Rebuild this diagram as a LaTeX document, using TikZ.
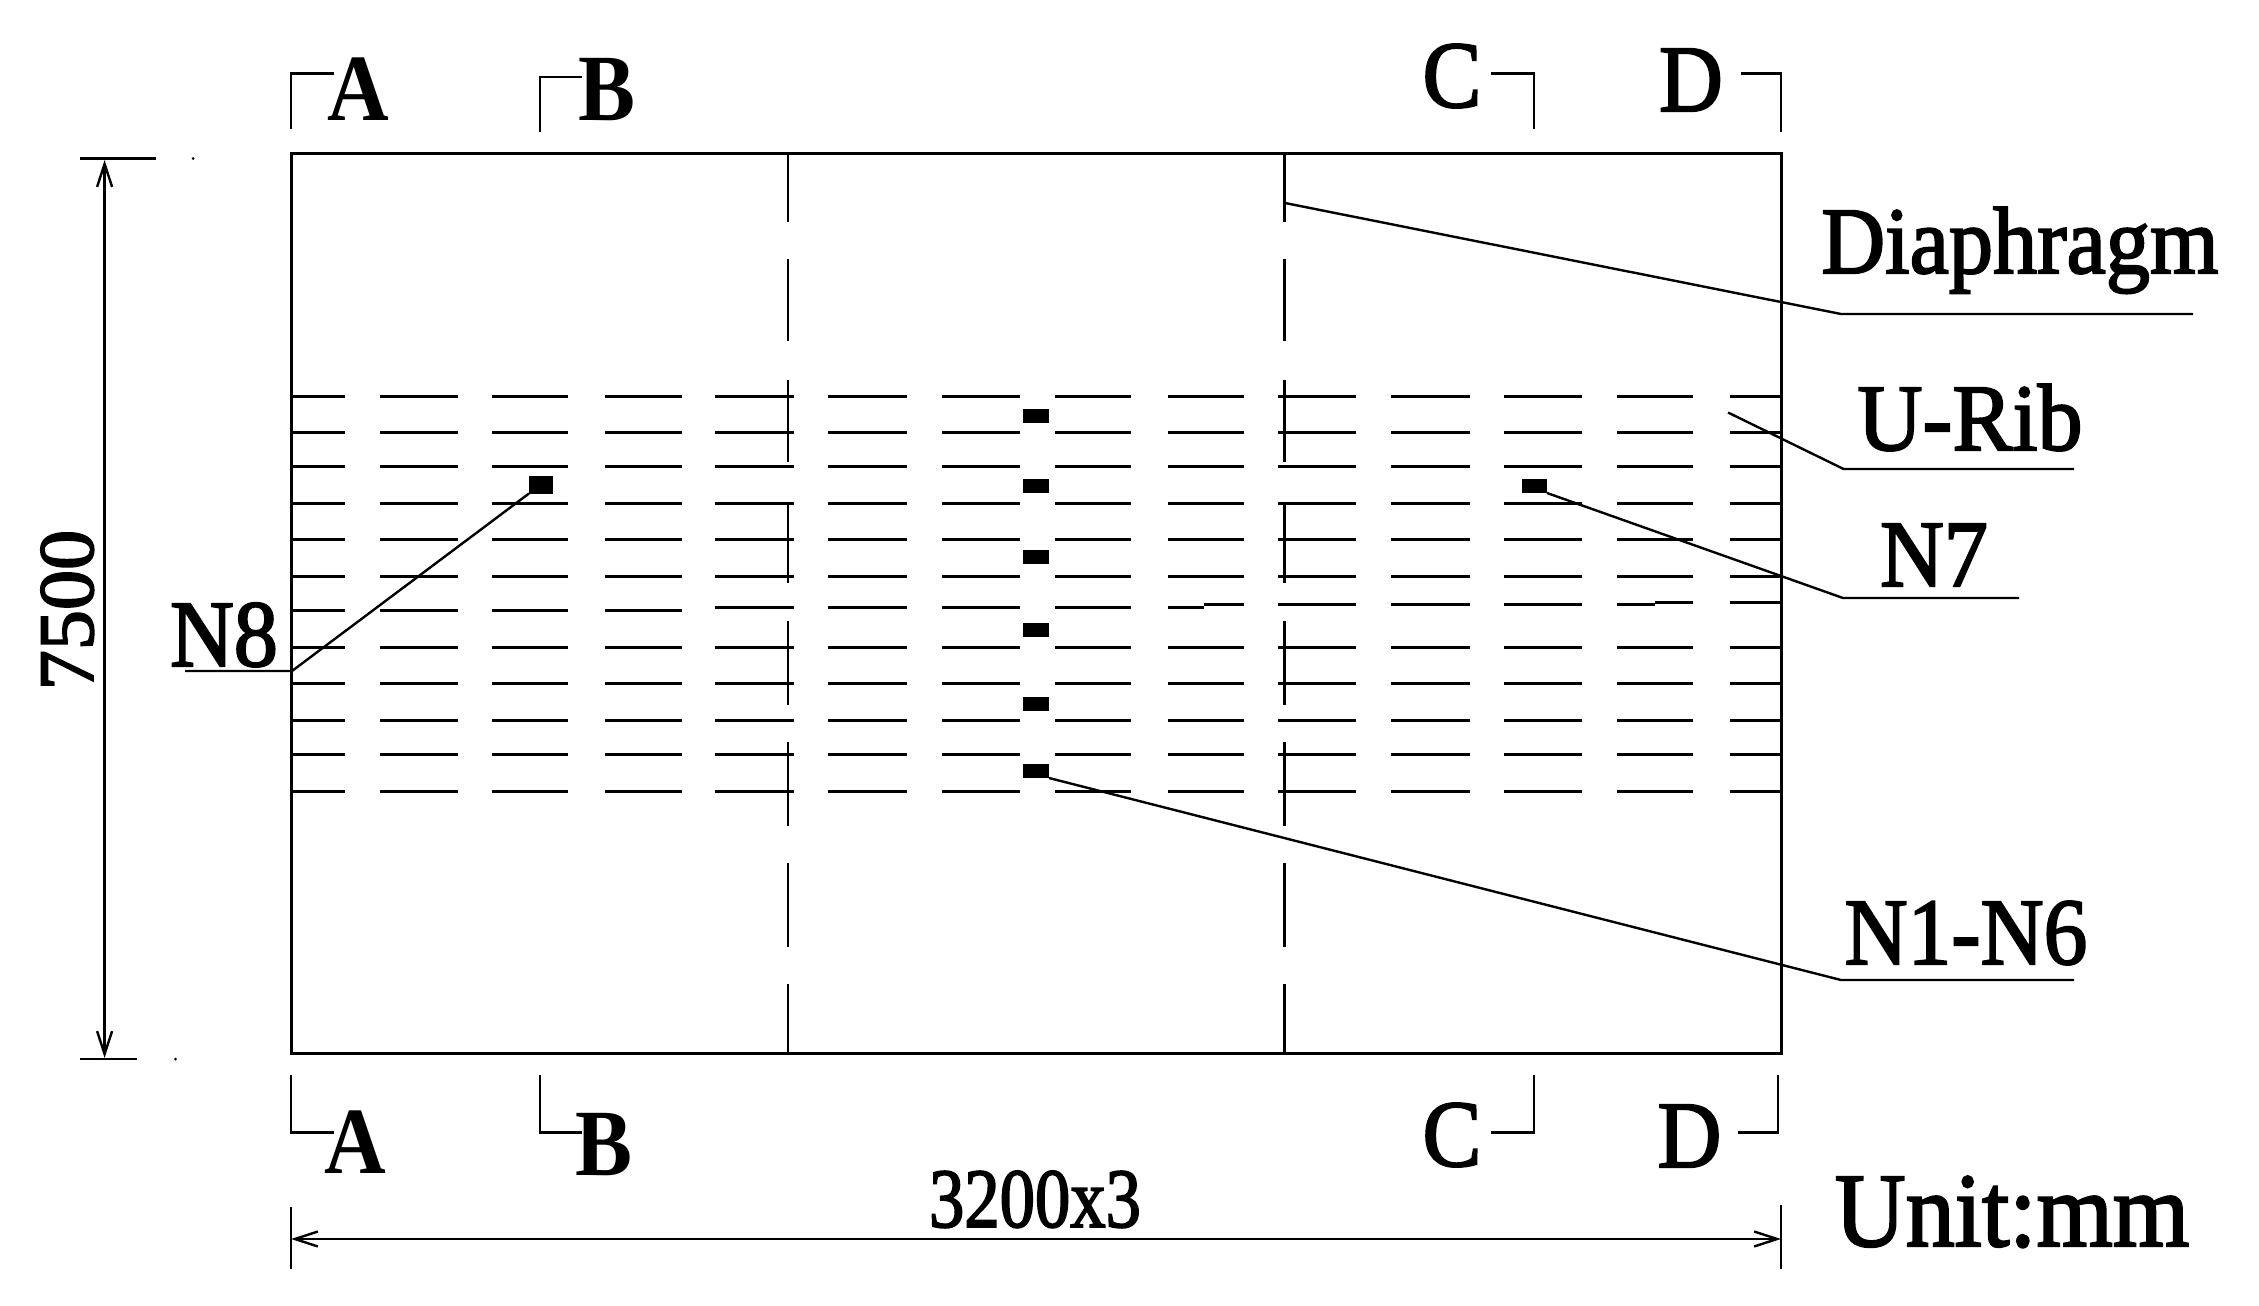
\documentclass[tikz,border=0pt]{standalone}
\usepackage{fontspec}
\setmainfont{Liberation Serif}
\newfontfamily\heavyfont[FakeBold=2.2]{Liberation Serif}
\usetikzlibrary{arrows.meta}
\tikzset{
  web/.style={line width=0.027cm,line cap=butt},
  rib/.style={line width=0.03cm},
  leader/.style={line width=0.024cm},
  dimline/.style={line width=0.024cm,>={Straight Barb[length=0.23cm,width=0.15cm]}},
  gauge/.style={fill=black,inner sep=0pt,outer sep=0pt,minimum width=0.26cm,minimum height=0.14cm},
  lab/.style={font=\fontsize{27}{30}\selectfont\heavyfont,anchor=base,inner sep=0pt,xscale=0.93,transform shape},
  sect/.style={font=\fontsize{27}{30}\selectfont\bfseries,anchor=base,inner sep=0pt,xscale=0.9,transform shape},
}
\begin{document}
\begin{tikzpicture}[x=0.01cm,y=-0.01cm]
    \useasboundingbox (0,0) rectangle (2259,1306);

    % deck outline and the two diaphragms
    \draw [line width=0.03cm] (291,153) rectangle (1781,1053);
    \foreach \xd in {788,1284.5} {
      \foreach \ya/\yb in {153/222,259/341,380/462,504/583,621/705,742/826,863/947,984/1053}
        \draw [web] (\xd,\ya) -- (\xd,\yb);
    }

    % U-ribs
    \foreach \yr in {396,432.7,466,503,539.7,576,647,683.7,720,754,791} {
      \foreach \xa/\xb in {291/345,380/458,492/568,605/682,715/794,828/907,942/1020,1055/1130.5,1167.6/1243.5,1278/1356,1391/1470,1504/1582,1617/1693,1730/1781}
        \draw [rib] (\xa,\yr) -- (\xb,\yr);
    }
    % this row drifts up a little towards the right
    \foreach \xa/\xb in {291/345,380/458,492/568,605/682}
      \draw [rib] (\xa,610) -- (\xb,610);
    \foreach \xa/\xb in {715/794,828/907,942/1020,1055/1130.5,1167.6/1204}
      \draw [rib] (\xa,607) -- (\xb,607);
    \foreach \xa/\xb in {1204/1243.5,1278/1356,1391/1470,1504/1582,1617/1655}
      \draw [rib] (\xa,604.7) -- (\xb,604.7);
    \foreach \xa/\xb in {1655/1693,1730/1781}
      \draw [rib] (\xa,602) -- (\xb,602);

    % measuring points
    \node [gauge] (nOne) at (1036,415.7) {};
    \node [gauge] (nTwo) at (1036,486) {};
    \node [gauge] (nThree) at (1036,556.7) {};
    \node [gauge] (nFour) at (1036,630) {};
    \node [gauge] (nFive) at (1036,703.7) {};
    \node [gauge] (nSix) at (1036,771) {};
    \node [gauge,minimum width=0.24cm,minimum height=0.17cm] (nEight) at (541,485) {};
    \node [gauge,minimum width=0.25cm] (nSeven) at (1534.5,486) {};

    % leaders
    \coordinate (webPt) at (1285,203);
    \coordinate (ribPt) at (1728,412.5);
    \coordinate (diaKnee) at (1841,314);
    \coordinate (diaEnd) at (2193,314);
    \coordinate (ribKnee) at (1843.6,469);
    \coordinate (ribEnd) at (2074,469);
    \coordinate (sevenKnee) at (1843,598);
    \coordinate (sevenEnd) at (2019,598);
    \coordinate (sixKnee) at (1841,980);
    \coordinate (sixEnd) at (2074,980);
    \coordinate (eightKnee) at (292,671);
    \coordinate (eightEnd) at (185,671);
    \draw [leader] (webPt) -- (diaKnee) -- (diaEnd);
    \draw [leader] (ribPt) -- (ribKnee) -- (ribEnd);
    \draw [leader] (nSeven.south east) -- (sevenKnee) -- (sevenEnd);
    \draw [leader] (nSix.south east) -- (sixKnee) -- (sixEnd);
    \draw [leader] (nEight.south west) -- (eightKnee) -- (eightEnd);

    \node [lab] (lDia) at (2020,273) {Diaphragm};
    \node [lab,xscale=1.02] (lRib) at (1970,450) {U-Rib};
    \node [lab] (lSeven) at (1934,586) {N7};
    \node [lab,xscale=0.99] (lSix) at (1966,964) {N1-N6};
    \node [lab] (lEight) at (224,666) {N8};
    \node [lab,font=\fontsize{30}{32}\selectfont\heavyfont,xscale=1.0] (lUnit) at (2012,1246) {Unit:mm};

    % section marks
    \draw [leader] (291,128.6) -- (291,73.7) -- (334,73.7);
    \draw [leader] (540,132) -- (540,77) -- (581.6,77);
    \draw [leader] (1491,73.7) -- (1534,73.7) -- (1534,128.6);
    \draw [leader] (1741,73.7) -- (1781,73.7) -- (1781,132);
    \draw [leader] (291,1075) -- (291,1132.4) -- (334,1132.4);
    \draw [leader] (540,1075) -- (540,1132.4) -- (581.6,1132.4);
    \draw [leader] (1491,1132.4) -- (1534,1132.4) -- (1534,1075);
    \draw [leader] (1738,1132.4) -- (1778,1132.4) -- (1778,1075);
    \node [sect] (aTop) at (358,120.5) {A};
    \node [sect] (bTop) at (607,120.5) {B};
    \node [lab] (cTop) at (1452,107) {C};
    \node [lab] (dTop) at (1691,111) {D};
    \node [sect] (aBot) at (355,1173) {A};
    \node [sect] (bBot) at (604,1175) {B};
    \node [lab] (cBot) at (1452,1166) {C};
    \node [lab] (dBot) at (1689.5,1167) {D};

    % dimensions
    \coordinate (heightTop) at (104.6,160);
    \coordinate (heightBot) at (104.6,1058);
    \coordinate (widthL) at (291,1239);
    \coordinate (widthR) at (1781,1239);
    \draw [dimline,<->] (heightTop) -- (heightBot);
    \draw [dimline,<->] (widthL) -- (widthR);
    \draw [leader] (80,158.5) -- (155.6,158.5);
    \draw [leader] (80,1059) -- (137,1059);
    \draw [leader] (291,1207) -- (291,1268.6);
    \draw [leader] (1781,1205) -- (1781,1268.6);
    \fill (193,158.5) circle [radius=1.5];
    \fill (175.5,1059) circle [radius=1.5];
    \node [lab,rotate=90,font=\fontsize{24}{26}\selectfont\heavyfont,xscale=0.95] (lHeight) at (93,610) {7500};
    \node [lab,font=\fontsize{24}{26}\selectfont\heavyfont,xscale=0.9] (lWidth) at (1035,1227) {3200x3};
\end{tikzpicture}
\end{document}
